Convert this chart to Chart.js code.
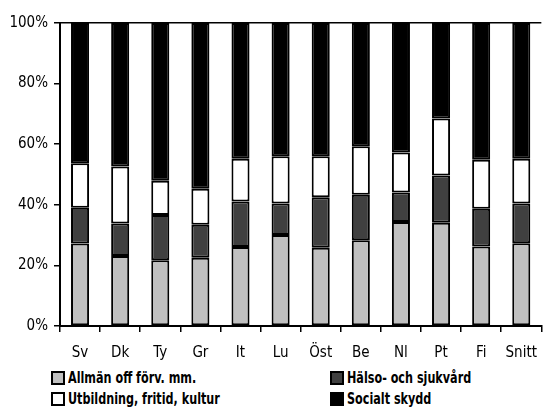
<!DOCTYPE html>
<html>
<head>
<meta charset="utf-8">
<script src="https://cdn.jsdelivr.net/npm/chart.js@4.4.0/dist/chart.umd.min.js"></script>
<style>
  html, body { margin: 0; padding: 0; background: #fff; }
  #wrap { position: relative; width: 549px; height: 409px; }
  #chartBox { position: absolute; left: 0; top: 0; width: 549px; height: 368px; }
  #legend { position: absolute; left: 0; top: 368px; width: 549px; height: 41px; }
  .item { position: absolute; display: flex; align-items: center; font-family: "DejaVu Sans Condensed", sans-serif; font-weight: bold; font-size: 15px; color: #000; }
  .box { width: 10px; height: 10px; border: 2px solid #000; margin-right: 3px; }
  .txt { display: inline-block; transform: scaleX(0.83); transform-origin: left center; white-space: nowrap; }
</style>
</head>
<body>
<div id="wrap">
  <div id="chartBox"><canvas id="c"></canvas></div>
  <div id="legend"></div>
</div>
<script>
const categories = ['Sv', 'Dk', 'Ty', 'Gr', 'It', 'Lu', 'Öst', 'Be', 'Nl', 'Pt', 'Fi', 'Snitt'];
const seriesNames = ['Allmän off förv. mm.', 'Hälso- och sjukvård', 'Utbildning, fritid, kultur', 'Socialt skydd'];
const allman    = [27.2, 23.1, 21.7, 22.5, 26.1, 30.0, 25.8, 28.3, 34.3, 34.1, 26.2, 27.3];
const halso     = [11.8, 10.7, 14.9, 10.9, 15.0, 10.4, 16.7, 15.0,  9.8, 15.6, 12.5, 13.1];
const utbildning= [14.7, 18.8, 11.3, 11.9, 14.1, 15.6, 13.5, 16.0, 13.2, 18.8, 16.2, 14.8];
const socialt   = [46.3, 47.4, 52.1, 54.7, 44.8, 44.0, 44.0, 40.7, 42.7, 31.5, 45.1, 44.8];
const yTicks = [0, 20, 40, 60, 80, 100];

const colors = ['#c0c0c0', '#404040', '#ffffff', '#000000'];
const seriesData = [allman, halso, utbildning, socialt];
const font = "'DejaVu Sans Condensed', sans-serif";

const datasets = seriesData.map((d, i) => ({
    label: seriesNames[i],
    data: d,
    backgroundColor: colors[i],
    borderColor: '#000',
    borderWidth: 2,
    borderSkipped: false,
    barPercentage: 0.45,
    categoryPercentage: 1.0
}));

new Chart(document.getElementById('c'), {
    type: 'bar',
    data: { labels: categories, datasets: datasets },
    options: {
        responsive: true,
        maintainAspectRatio: false,
        animation: false,
        layout: { padding: { top: 23, right: 0, left: 0, bottom: 0 } },
        plugins: { legend: { display: false }, tooltip: { enabled: false } },
        scales: {
            x: {
                stacked: true,
                offset: true,
                border: { color: '#000', width: 2 },
                grid: { offset: true, drawOnChartArea: false, color: '#000', tickLength: 6, lineWidth: 1.5 },
                ticks: { color: '#000', font: { family: font, size: 15 }, padding: 12 },
                afterFit: s => { s.height = 42; }
            },
            y: {
                stacked: true,
                min: 0,
                max: 100,
                afterBuildTicks: s => { s.ticks = yTicks.map(v => ({ value: v })); },
                border: { color: '#000', width: 2 },
                grid: {
                    color: ctx => ctx.tick && ctx.tick.value === 100 ? '#000' : 'rgba(0,0,0,0)',
                    tickColor: '#000',
                    lineWidth: 1.5,
                    tickLength: 6
                },
                ticks: { color: '#000', font: { family: font, size: 15 }, padding: 6, callback: v => v + '%' },
                afterFit: s => { s.width = 60; }
            }
        }
    }
});

// legend, two columns
const legend = document.getElementById('legend');
const pos = [[51, 1], [330, 1], [51, 22], [330, 22]];
seriesNames.forEach((name, i) => {
    const it = document.createElement('div');
    it.className = 'item';
    it.style.left = pos[i][0] + 'px';
    it.style.top = pos[i][1] + 'px';
    it.innerHTML = `<span class="box" style="background:${colors[i]}"></span><span class="txt">${name}</span>`;
    legend.appendChild(it);
});
</script>
</body>
</html>
